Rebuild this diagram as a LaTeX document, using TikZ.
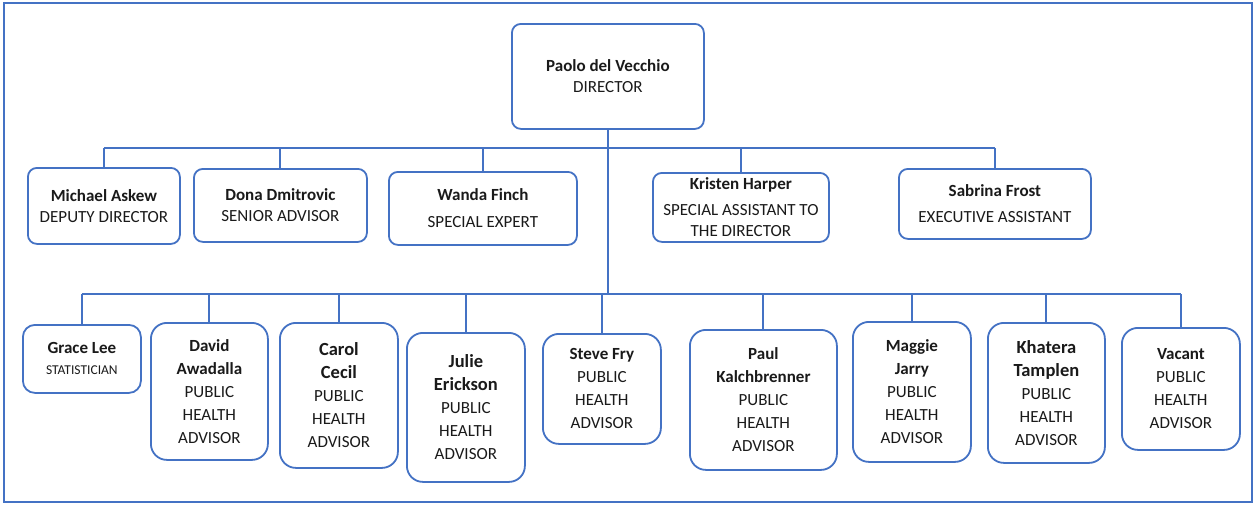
\documentclass[tikz,border=0pt]{standalone}
\usepackage{fontspec}
\setmainfont{Carlito}
\definecolor{lineblue}{HTML}{4472C4}
\definecolor{txt}{HTML}{1A1A1A}
\begin{document}
\begin{tikzpicture}[x=1pt,y=-1pt,
  box/.style={draw=lineblue, line width=1.8pt, rounded corners=9pt, fill=white,
    anchor=north west, inner sep=0pt, align=center, text=txt,
    font=\fontsize{17}{21}\selectfont},
  bigbox/.style={box, rounded corners=16pt, font=\fontsize{17}{23}\selectfont},
  conn/.style={draw=lineblue, line width=2pt}]
\useasboundingbox (0,0) rectangle (1254,504);
\draw[lineblue, line width=2pt] (4,2.5) rectangle (1251.5,502);

% director
\node[box, minimum width=192pt, minimum height=105pt] (dir) at (511,23)
  {\textbf{Paolo del Vecchio}\\DIRECTOR};

% top row
\node[box, minimum width=152pt, minimum height=76pt] (askew) at (27,167)
  {\textbf{Michael Askew}\\DEPUTY DIRECTOR};
\node[box, minimum width=173pt, minimum height=73pt] (dona) at (193,168)
  {\textbf{Dona Dmitrovic}\\SENIOR ADVISOR};
\node[box, minimum width=188pt, minimum height=73pt] (wanda) at (388,171)
  {\textbf{Wanda Finch}\\[6pt]SPECIAL EXPERT};
\node[box, minimum width=176pt, minimum height=69pt] (kristen) at (652,172)
  {\textbf{Kristen Harper}\\[5pt]SPECIAL ASSISTANT TO\\THE DIRECTOR};
\node[box, minimum width=192pt, minimum height=70pt] (frost) at (898,168)
  {\textbf{Sabrina Frost}\\[5pt]EXECUTIVE ASSISTANT};

% bottom row
\node[box, rounded corners=12pt, minimum width=118pt, minimum height=68pt] (grace) at (22,324)
  {\textbf{Grace Lee}\\{\fontsize{13.5}{17}\selectfont STATISTICIAN}};
\node[bigbox, minimum width=117pt, minimum height=137pt] (david) at (150,322)
  {\textbf{David}\\\textbf{Awadalla}\\PUBLIC\\HEALTH\\ADVISOR};
\node[bigbox, minimum width=118pt, minimum height=145pt] (carol) at (279,322)
  {{\fontsize{18.5}{24}\selectfont\textbf{Carol}}\\{\fontsize{18.5}{24}\selectfont\textbf{Cecil}}\\PUBLIC\\HEALTH\\ADVISOR};
\node[bigbox, minimum width=118pt, minimum height=149pt] (julie) at (406,332)
  {{\fontsize{18.5}{24}\selectfont\textbf{Julie}}\\{\fontsize{18.5}{24}\selectfont\textbf{Erickson}}\\PUBLIC\\HEALTH\\ADVISOR};
\node[bigbox, minimum width=118pt, minimum height=110pt] (steve) at (542,333)
  {\textbf{Steve Fry}\\PUBLIC\\HEALTH\\ADVISOR};
\node[bigbox, minimum width=147pt, minimum height=140pt] (paul) at (689,329)
  {\textbf{Paul}\\\textbf{Kalchbrenner}\\PUBLIC\\HEALTH\\ADVISOR};
\node[bigbox, minimum width=118pt, minimum height=140pt] (maggie) at (852,321)
  {\textbf{Maggie}\\\textbf{Jarry}\\PUBLIC\\HEALTH\\ADVISOR};
\node[bigbox, minimum width=117pt, minimum height=140pt] (khatera) at (987,322)
  {{\fontsize{18.5}{24}\selectfont\textbf{Khatera}}\\{\fontsize{18.5}{24}\selectfont\textbf{Tamplen}}\\PUBLIC\\HEALTH\\ADVISOR};
\node[bigbox, minimum width=118pt, minimum height=122pt] (vacant) at (1121,327)
  {\textbf{Vacant}\\PUBLIC\\HEALTH\\ADVISOR};

% bus coordinates
\coordinate (topbus) at (0,148);
\coordinate (botbus) at (0,294);

% top connectors
\draw[conn] (dir.south) -- (dir.south |- botbus);
\draw[conn] (askew.north |- topbus) -- (frost.north |- topbus);
\foreach \n in {askew,dona,wanda,kristen,frost}
  \draw[conn] (\n.north) -- (\n.north |- topbus);

% bottom connectors
\draw[conn] (grace.north |- botbus) -- (vacant.north |- botbus);
\foreach \n in {grace,david,carol,julie,steve,paul,maggie,khatera,vacant}
  \draw[conn] (\n.north) -- (\n.north |- botbus);
\end{tikzpicture}
\end{document}
